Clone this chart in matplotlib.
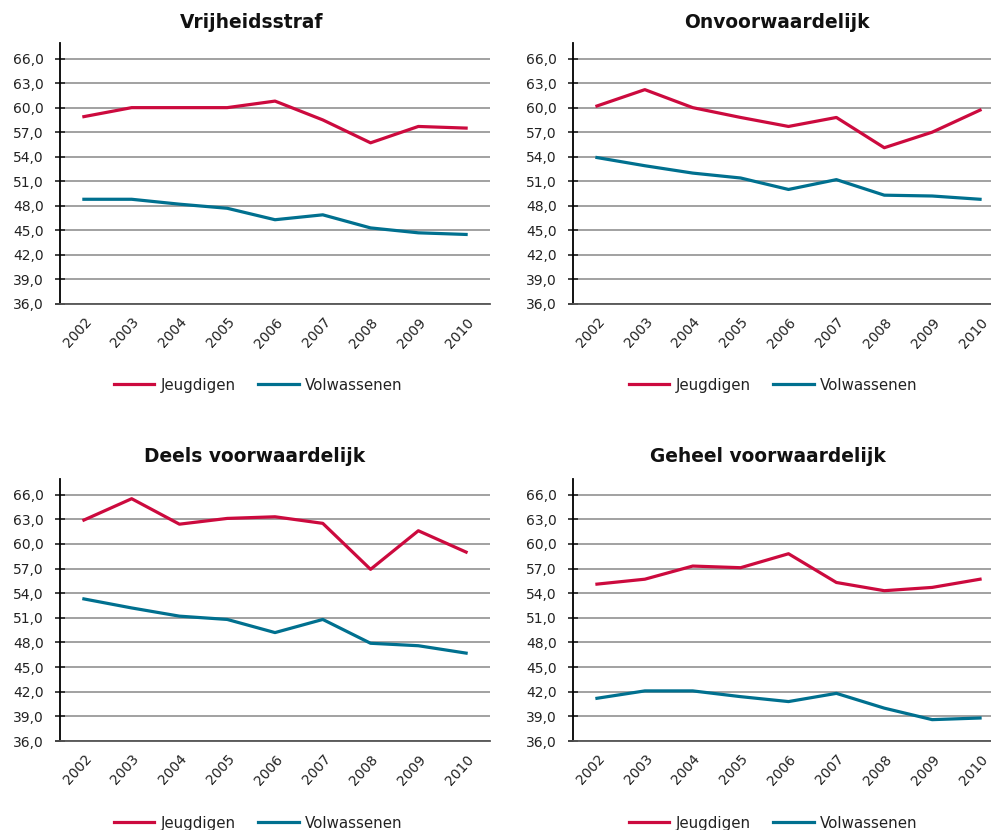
import matplotlib
matplotlib.use("Agg")
import matplotlib.pyplot as plt
from matplotlib.ticker import FuncFormatter

years = ['2002', '2003', '2004', '2005', '2006', '2007', '2008', '2009', '2010']
titles = ['Vrijheidsstraf', 'Onvoorwaardelijk', 'Deels voorwaardelijk', 'Geheel voorwaardelijk']
series_names = ['Jeugdigen', 'Volwassenen']

# Jeugdigen / Volwassenen per panel
vrij_jeugd = [58.9, 60.0, 60.0, 60.0, 60.8, 58.5, 55.7, 57.7, 57.5]
vrij_volw = [48.8, 48.8, 48.2, 47.7, 46.3, 46.9, 45.3, 44.7, 44.5]
onv_jeugd = [60.2, 62.2, 60.0, 58.8, 57.7, 58.8, 55.1, 57.0, 59.7]
onv_volw = [53.9, 52.9, 52.0, 51.4, 50.0, 51.2, 49.3, 49.2, 48.8]
deels_jeugd = [62.9, 65.5, 62.4, 63.1, 63.3, 62.5, 56.9, 61.6, 59.0]
deels_volw = [53.3, 52.2, 51.2, 50.8, 49.2, 50.8, 47.9, 47.6, 46.7]
geheel_jeugd = [55.1, 55.7, 57.3, 57.1, 58.8, 55.3, 54.3, 54.7, 55.7]
geheel_volw = [41.2, 42.1, 42.1, 41.4, 40.8, 41.8, 40.0, 38.6, 38.8]

panels = [(vrij_jeugd, vrij_volw), (onv_jeugd, onv_volw),
          (deels_jeugd, deels_volw), (geheel_jeugd, geheel_volw)]

RED = '#CC0A3E'
TEAL = '#00708F'
W, H = 991, 830

fig = plt.figure(figsize=(W / 100, H / 100), dpi=100)

# axes boxes in pixels: left, top, right, bottom
boxes = [(60, 43, 490, 304), (573, 43, 1004, 304),
         (60, 479, 490, 741), (573, 479, 1004, 741)]
title_pos = [(252, 22), (777, 22), (255, 456), (768, 456)]
legend_pos = [(258, 385), (773, 385), (258, 823), (773, 823)]

fmt = FuncFormatter(lambda v, p: f'{v:.1f}'.replace('.', ','))

for i, (jeugd, volw) in enumerate(panels):
    l, t, r, b = boxes[i]
    ax = fig.add_axes([l / W, 1 - b / H, (r - l) / W, (b - t) / H])
    x = range(len(years))
    lj, = ax.plot(x, jeugd, color=RED, lw=2.3, solid_joinstyle='round')
    lv, = ax.plot(x, volw, color=TEAL, lw=2.3, solid_joinstyle='round')
    ax.set_xlim(-0.5, len(years) - 0.5)
    ax.set_ylim(36, 67.9)
    ax.set_yticks(range(36, 67, 3))
    ax.yaxis.set_major_formatter(fmt)
    ax.yaxis.grid(True, color='#9a9a9a', lw=1.3)
    ax.set_axisbelow(True)
    ax.set_xticks(list(x))
    ax.set_xticklabels(years, rotation=48, ha='right', va='top',
                       rotation_mode='anchor')
    ax.tick_params(axis='x', length=0, pad=8, labelsize=10, colors='#222222')
    ax.tick_params(axis='y', direction='inout', length=7, width=1.2, pad=8,
                   labelsize=10, colors='#222222')
    for s in ['top', 'right']:
        ax.spines[s].set_visible(False)
    ax.spines['left'].set_linewidth(1.3)
    ax.spines['bottom'].set_color('#555555')
    ax.spines['bottom'].set_linewidth(1.3)
    ax.patch.set_visible(False)

    tx, ty = title_pos[i]
    fig.text(tx / W, 1 - ty / H, titles[i], fontsize=13.4, fontweight='bold',
             ha='center', va='center', color='#111111')
    lx, ly = legend_pos[i]
    fig.legend([lj, lv], series_names, loc='center',
               bbox_to_anchor=(lx / W, 1 - ly / H), ncol=2, frameon=False,
               fontsize=10.8, handlelength=2.7, columnspacing=1.5,
               handletextpad=0.4, labelcolor='#222222')

plt.savefig('out.png', dpi=100)
